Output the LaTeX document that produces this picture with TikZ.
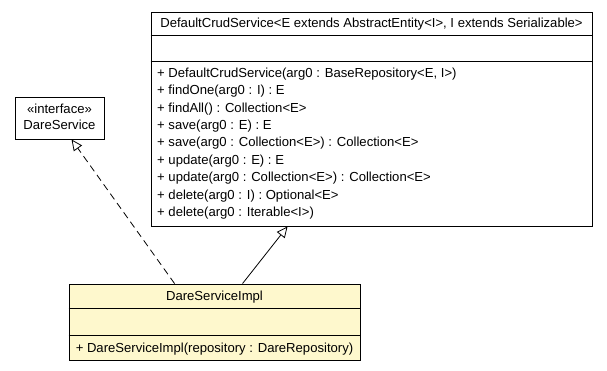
\documentclass[tikz,border=0pt]{standalone}
\usepackage{fontspec}
\setmainfont{Liberation Sans}
\usetikzlibrary{arrows.meta,shadows}
\definecolor{implfill}{HTML}{FEF8CD}
\definecolor{boxshade}{HTML}{6E6E6E}

\begin{document}
\begin{tikzpicture}[x=1pt,y=-1pt,font=\fontsize{13.1}{15}\selectfont,
 cls/.style={draw=black,line width=0.9pt,fill=white,inner sep=0pt,
  drop shadow={shadow xshift=1.3pt,shadow yshift=-1.3pt,fill=boxshade,opacity=1}},
 txt/.style={inner sep=0pt,anchor=base},
 mth/.style={inner sep=0pt,anchor=base west},
 sep/.style={draw=black,line width=1.2pt},
 real/.style={dash pattern=on 7pt off 4.5pt,line width=0.8pt,-{Triangle[open,length=11pt,width=10pt,line width=0.8pt]}},
 inh/.style={line width=0.8pt,-{Triangle[open,length=11pt,width=10pt,line width=0.8pt]}}]
\useasboundingbox (0,0) rectangle (607,371);
\node[cls,minimum width=89pt,minimum height=42pt] (svc) at (59.5,118) {};
\node[txt] (svcstereo) at (59.5,113.3) {«interface»};
\node[txt] (svcname) at (59.5,130) {DareService};
\node[cls,minimum width=441pt,minimum height=214pt] (crud) at (371.5,119) {};
\node[txt] (crudname) at (371.5,27.5) {DefaultCrudService<E extends AbstractEntity<I>, I extends Serializable>};
\draw[sep] ([yshift=-24pt]crud.north west)--([yshift=-24pt]crud.north east);
\draw[sep] ([yshift=-50pt]crud.north west)--([yshift=-50pt]crud.north east);
\foreach \m [count=\i from 0] in {{+ DefaultCrudService(arg0 : BaseRepository<E, I>)},{+ findOne(arg0 : I) : E},{+ findAll() : Collection<E>},{+ save(arg0 : E) : E},{+ save(arg0 : Collection<E>) : Collection<E>},{+ update(arg0 : E) : E},{+ update(arg0 : Collection<E>) : Collection<E>},{+ delete(arg0 : I) : Optional<E>},{+ delete(arg0 : Iterable<I>)}}{
\node[mth] (crudop\i) at (157,77.3+17.4*\i) {\m};}
\node[cls,fill=implfill,minimum width=291pt,minimum height=76pt] (impl) at (214.5,322) {};
\node[txt] (implname) at (214.5,300.7) {DareServiceImpl};
\draw[sep] ([yshift=-25pt]impl.north west)--([yshift=-25pt]impl.north east);
\draw[sep] ([yshift=-52pt]impl.north west)--([yshift=-52pt]impl.north east);
\node[txt] (implop) at (214.5,352.3) {+ DareServiceImpl(repository : DareRepository)};
\draw[real] ([xshift=106pt]impl.north west)--([xshift=57pt]svc.south west);
\draw[inh] ([xshift=174pt]impl.north west)--([xshift=137pt]crud.south west);
\end{tikzpicture}
\end{document}
